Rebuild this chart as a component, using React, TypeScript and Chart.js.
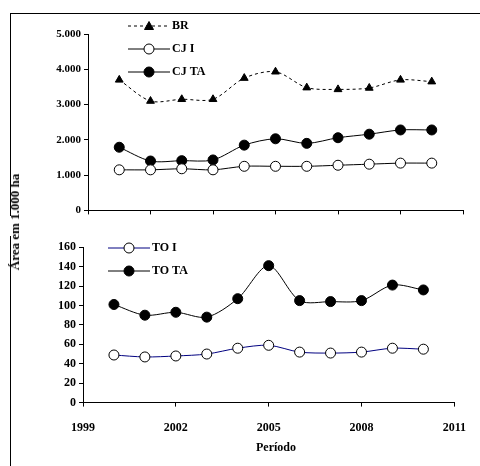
import React, { useEffect, useRef } from "react";
import { Chart, registerables } from "chart.js";
Chart.register(...registerables);

const years = [2000, 2001, 2002, 2003, 2004, 2005, 2006, 2007, 2008, 2009, 2010];
const br = [3700, 3100, 3150, 3150, 3750, 3930, 3480, 3430, 3470, 3700, 3650];
const cjI = [1150, 1150, 1180, 1150, 1250, 1250, 1250, 1280, 1310, 1340, 1340];
const cjTA = [1790, 1400, 1410, 1430, 1850, 2030, 1900, 2060, 2160, 2280, 2280];
const toI = [49, 47, 48, 50, 56, 59, 52, 51, 52, 56, 55];
const toTA = [101, 90, 93, 88, 107, 141, 105, 104, 105, 121, 116];

const FONT = "'Liberation Serif', 'DejaVu Serif', serif";
const pts = (arr: number[]) => arr.map((v, i) => ({ x: years[i], y: v }));

const legendPlugin = (x0: number, y0: number, gap: number) => ({
  id: "customLegend",
  afterDraw(chart: any) {
    const ctx = chart.ctx;
    chart.data.datasets.forEach((ds: any, i: number) => {
      const y = y0 + i * gap;
      ctx.save();
      ctx.strokeStyle = ds.borderColor;
      ctx.lineWidth = 1;
      ctx.setLineDash(ds.borderDash || []);
      ctx.beginPath();
      ctx.moveTo(x0, y);
      ctx.lineTo(x0 + 42, y);
      ctx.stroke();
      ctx.setLineDash([]);
      ctx.fillStyle = ds.pointBackgroundColor;
      ctx.strokeStyle = "#000";
      ctx.beginPath();
      if (ds.pointStyle === "triangle") {
        ctx.moveTo(x0 + 21, y - 4.5);
        ctx.lineTo(x0 + 25.5, y + 3.5);
        ctx.lineTo(x0 + 16.5, y + 3.5);
        ctx.closePath();
      } else {
        ctx.arc(x0 + 21, y, 5, 0, Math.PI * 2);
      }
      ctx.fill();
      ctx.stroke();
      ctx.fillStyle = "#000";
      ctx.font = "bold 12px " + FONT;
      ctx.textBaseline = "middle";
      ctx.fillText(ds.label, x0 + 44, y);
      ctx.restore();
    });
  },
});

function ds(label: string, data: number[], opts: any) {
  return {
    label,
    data: pts(data),
    borderColor: "#000",
    borderWidth: 1,
    pointRadius: 5,
    pointBorderColor: "#000",
    pointBorderWidth: 1,
    tension: 0.3,
    ...opts,
  };
}

const axisGrid = { drawOnChartArea: false, tickLength: 4, tickColor: "#000" } as any;

export default function App() {
  const topRef = useRef<HTMLCanvasElement>(null);
  const botRef = useRef<HTMLCanvasElement>(null);
  useEffect(() => {
    Chart.defaults.font.family = FONT;
    Chart.defaults.color = "#000";
    const c1 = new Chart(topRef.current!, {
      type: "line",
      data: {
        datasets: [
          ds("BR", br, { borderDash: [3, 3], pointStyle: "triangle", pointBackgroundColor: "#000", pointRadius: 4.5 }),
          ds("CJ I", cjI, { pointBackgroundColor: "#fff" }),
          ds("CJ TA", cjTA, { pointBackgroundColor: "#000" }),
        ],
      },
      options: {
        animation: false,
        responsive: false,
        layout: { padding: { top: 19, right: 17, bottom: 0, left: 0 } },
        plugins: { legend: { display: false }, tooltip: { enabled: false } },
        scales: {
          x: {
            type: "linear", min: 1999, max: 2011,
            grid: axisGrid,
            border: { color: "#000" },
            ticks: { stepSize: 2, display: false },
          },
          y: {
            min: 0, max: 5000,
            afterFit: (s: any) => { s.width = 78; },
            grid: axisGrid,
            border: { color: "#000" },
            ticks: { stepSize: 1000, font: { size: 11, weight: "bold" }, callback: (v: any) => (v === 0 ? "0" : v / 1000 + ".000") },
          },
        },
      },
      plugins: [legendPlugin(118, 11, 23)],
    });
    const c2 = new Chart(botRef.current!, {
      type: "line",
      data: {
        datasets: [
          ds("TO I", toI, { pointBackgroundColor: "#fff", borderColor: "#000080" }),
          ds("TO TA", toTA, { pointBackgroundColor: "#000" }),
        ],
      },
      options: {
        animation: false,
        responsive: false,
        layout: { padding: { top: 3, right: 0, bottom: 17, left: 0 } },
        plugins: { legend: { display: false }, tooltip: { enabled: false } },
        scales: {
          x: {
            type: "linear", min: 1999, max: 2011,
            grid: axisGrid,
            border: { color: "#000" },
            ticks: { stepSize: 3, font: { size: 12, weight: "bold" }, padding: 14, callback: (v: any) => String(v) },
          },
          y: {
            min: 0, max: 160,
            afterFit: (s: any) => { s.width = 73; },
            grid: axisGrid,
            border: { color: "#000" },
            ticks: { stepSize: 20, font: { size: 12, weight: "bold" } },
          },
        },
      },
      plugins: [legendPlugin(98, 11, 23)],
    });
    return () => { c1.destroy(); c2.destroy(); };
  }, []);
  return (
    <div style={{ position: "fixed", left: 0, top: 0, width: 480, height: 466, background: "#fff", overflow: "hidden" }}>
      <div style={{ position: "absolute", left: 10, top: 13, width: 470, height: 1, background: "#000" }} />
      <div style={{ position: "absolute", left: 10, top: 13, width: 1, height: 203, background: "#000" }} />
      <div style={{ position: "absolute", left: 10, top: 236, width: 1, height: 230, background: "#000" }} />
      <canvas ref={topRef} width={470} height={205} style={{ position: "absolute", left: 10, top: 15 }} />
      <canvas ref={botRef} width={470} height={229} style={{ position: "absolute", left: 10, top: 237 }} />
      <div style={{ position: "absolute", left: 15, top: 222, transform: "translate(-50%,-50%) rotate(-90deg)", whiteSpace: "nowrap", fontFamily: FONT, fontWeight: "bold", fontSize: 13 }}>
        Área em 1.000 ha
      </div>
      <div style={{ position: "absolute", left: 276, top: 447, transform: "translate(-50%,-50%)", whiteSpace: "nowrap", fontFamily: FONT, fontWeight: "bold", fontSize: 12 }}>
        Período
      </div>
    </div>
  );
}
